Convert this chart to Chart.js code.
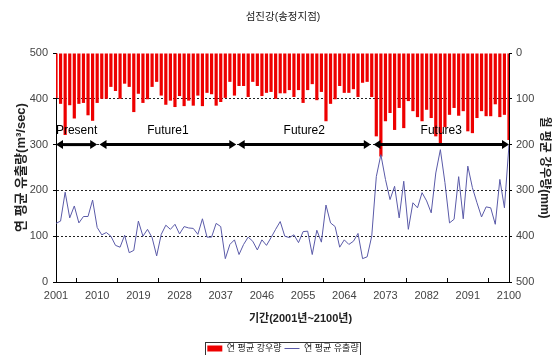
<!DOCTYPE html>
<html>
<head>
<meta charset="utf-8">
<script src="https://cdn.jsdelivr.net/npm/chart.js@4.4.0/dist/chart.umd.min.js"></script>
<style>
  html, body { margin: 0; padding: 0; background: #fff; }
</style>
</head>
<body>
<canvas id="myChart" width="552" height="355"></canvas>
<script>
// 연도 (2001년 ~ 2100년)
const years = [];
for (let y = 2001; y <= 2100; y++) years.push(y);

// 연 평균 강우량 (mm) - 오른쪽 축, 위에서 아래로
const rain = [
  98, 111, 179, 114, 143, 111, 109, 136, 148, 109,
  100, 100, 74, 83, 100, 67, 74, 129, 89, 109,
  101, 74, 63, 93, 113, 104, 118, 94, 116, 104,
  115, 93, 116, 87, 90, 115, 107, 98, 63, 93,
  72, 72, 96, 63, 72, 94, 87, 85, 100, 88,
  88, 81, 96, 81, 109, 81, 68, 103, 85, 149,
  111, 101, 72, 87, 87, 79, 96, 65, 63, 96,
  182, 226, 149, 131, 168, 120, 164, 105, 127, 140,
  149, 124, 142, 182, 197, 162, 135, 120, 137, 127,
  171, 175, 142, 127, 138, 138, 112, 140, 135, 190
];

// 연 평균 유출량 (m³/sec) - 왼쪽 축
const flow = [
  128, 133, 196, 140, 166, 129, 143, 143, 179, 119,
  103, 108, 100, 80, 76, 102, 64, 69, 133, 100,
  115, 97, 57, 104, 124, 115, 126, 105, 121, 118,
  117, 104, 138, 98, 98, 128, 121, 51, 82, 92,
  60, 82, 98, 89, 70, 92, 80, 97, 115, 132,
  100, 97, 103, 86, 110, 111, 60, 113, 87, 168,
  129, 121, 76, 92, 82, 89, 106, 51, 55, 100,
  230, 278, 224, 180, 209, 140, 220, 115, 173, 162,
  195, 177, 151, 238, 289, 217, 129, 137, 230, 138,
  253, 206, 173, 142, 164, 162, 126, 224, 162, 300
];

// x축 눈금
const tickYears = [2001, 2010, 2019, 2028, 2037, 2046, 2055, 2064, 2073, 2082, 2091, 2100];

// 구간 화살표
const periodNames = ['Present', 'Future1', 'Future2', 'Future3'];
const periodStart = [2001, 2010.5, 2040.7, 2070.4];
const periodEnd = [2010, 2040.4, 2069.8, 2100];
const arrowLevel = 300;

const FONT_KR = "'Liberation Sans', 'Noto Sans CJK KR', sans-serif";
const FONT_NUM = "'Liberation Sans', sans-serif";

// 구간 화살표 + x축 제목
const periodPlugin = {
  id: 'periods',
  afterDatasetsDraw(chart) {
    const { ctx, scales: { x, y } } = chart;
    const py = y.getPixelForValue(arrowLevel);
    ctx.save();
    ctx.strokeStyle = '#000';
    ctx.fillStyle = '#000';
    ctx.lineWidth = 3;
    periodNames.forEach((name, i) => {
      const x1 = x.getPixelForValue(periodStart[i]);
      const x2 = x.getPixelForValue(periodEnd[i]);
      ctx.beginPath();
      ctx.moveTo(x1 + 5, py);
      ctx.lineTo(x2 - 5, py);
      ctx.stroke();
      // 양쪽 화살촉
      ctx.beginPath();
      ctx.moveTo(x1, py);
      ctx.lineTo(x1 + 7, py - 4.5);
      ctx.lineTo(x1 + 7, py + 4.5);
      ctx.closePath();
      ctx.fill();
      ctx.beginPath();
      ctx.moveTo(x2, py);
      ctx.lineTo(x2 - 7, py - 4.5);
      ctx.lineTo(x2 - 7, py + 4.5);
      ctx.closePath();
      ctx.fill();
      ctx.font = '12px ' + FONT_NUM;
      ctx.textAlign = 'center';
      ctx.textBaseline = 'middle';
      ctx.fillText(name, (x1 + x2) / 2, py - 14);
    });
    ctx.restore();
  },
  afterDraw(chart) {
    const { ctx, chartArea, legend } = chart;
    ctx.save();
    // x축 제목
    ctx.fillStyle = '#222';
    ctx.font = 'bold 11px ' + FONT_KR;
    ctx.textAlign = 'center';
    ctx.textBaseline = 'middle';
    ctx.fillText('기간(2001년~2100년)', (chartArea.left + chartArea.right) / 2 + 18, 319);
    // 범례 테두리
    const hb = legend.legendHitBoxes;
    if (hb && hb.length) {
      const l = Math.min(...hb.map(b => b.left)) - 2;
      const r = Math.max(...hb.map(b => b.left + b.width)) + 2;
      const t = hb[0].top - 2;
      ctx.strokeStyle = '#333';
      ctx.lineWidth = 1;
      ctx.strokeRect(Math.round(l) + 0.5, Math.round(t) + 0.5, Math.round(r - l), 13);
    }
    ctx.restore();
  }
};

const ctx = document.getElementById('myChart').getContext('2d');
const chart = new Chart(ctx, {
  type: 'bar',
  data: {
    labels: years,
    datasets: [
      {
        type: 'bar',
        label: '연 평균 강우량',
        data: rain,
        yAxisID: 'y2',
        backgroundColor: '#ee0000',
        borderWidth: 0,
        barPercentage: 0.7,
        categoryPercentage: 1,
        order: 1
      },
      {
        type: 'line',
        label: '연 평균 유출량',
        data: flow,
        yAxisID: 'y',
        borderColor: '#5a5aa8',
        borderWidth: 1,
        pointRadius: 0,
        tension: 0,
        order: 0
      }
    ]
  },
  options: {
    responsive: false,
    animation: false,
    layout: { padding: { left: 14, right: 0, top: 0, bottom: 0 } },
    plugins: {
      title: {
        display: true,
        text: '섬진강(송정지점)',
        color: '#222',
        font: { family: FONT_KR, size: 10.5, weight: 'normal' },
        padding: { top: 10.7, bottom: 29.7 }
      },
      legend: {
        position: 'bottom',
        maxHeight: 14,
        labels: {
          usePointStyle: true,
          pointStyleWidth: 15,
          boxHeight: 6,
          padding: 3,
          color: '#222',
          font: { family: FONT_KR, size: 9 },
          generateLabels: (c) => c.data.datasets.map((ds, i) => ({
            text: ds.label,
            fillStyle: ds.type === 'line' ? 'rgba(0,0,0,0)' : ds.backgroundColor,
            strokeStyle: ds.type === 'line' ? ds.borderColor : ds.backgroundColor,
            lineWidth: ds.type === 'line' ? 1 : 0,
            pointStyle: ds.type === 'line' ? 'line' : 'rect',
            fontColor: '#222',
            hidden: false,
            datasetIndex: i
          }))
        }
      },
      tooltip: { enabled: false }
    },
    scales: {
      x: {
        type: 'linear',
        min: 2001,
        max: 2100,
        offset: false,
        afterBuildTicks: (s) => { s.ticks = tickYears.map(v => ({ value: v })); },
        afterFit: (s) => { s.height = s.chart.height - s.chart.legend.height - 282; },
        ticks: {
          callback: (v) => String(v),
          color: '#444',
          font: { family: FONT_NUM, size: 11 },
          padding: 11,
          maxRotation: 0,
          autoSkip: false
        },
        grid: { drawOnChartArea: false, tickLength: -4, color: '#000', tickColor: '#000' },
        border: { color: '#000' }
      },
      y: {
        position: 'left',
        min: 0,
        max: 500,
        afterFit: (s) => { s.width = 42; },
        ticks: { stepSize: 100, padding: 5, color: '#444', font: { family: FONT_NUM, size: 11 } },
        grid: {
          color: (c) => (c.tick && (c.tick.value === 0 || c.tick.value === 500)) ? 'rgba(0,0,0,0)' : '#222',
          tickColor: '#000',
          tickLength: 3
        },
        border: { color: '#000', dash: [2, 2] },
        title: {
          display: true,
          text: '연 평균 유출량(m³/sec)',
          color: '#222',
          font: { family: FONT_KR, size: 13, weight: 'bold' },
          padding: 0
        }
      },
      y2: {
        position: 'right',
        reverse: true,
        min: 0,
        max: 500,
        afterFit: (s) => { s.width = 43; },
        ticks: { stepSize: 100, padding: 4, color: '#444', font: { family: FONT_NUM, size: 11 } },
        grid: { drawOnChartArea: false, color: '#000', tickColor: '#000', tickLength: 3 },
        border: { color: '#000' },
        title: {
          display: true,
          text: '월 평균 강우량(mm)',
          color: '#222',
          font: { family: FONT_KR, size: 12, weight: 'bold' },
          padding: 0
        }
      }
    }
  },
  plugins: [periodPlugin]
});
</script>
</body>
</html>
